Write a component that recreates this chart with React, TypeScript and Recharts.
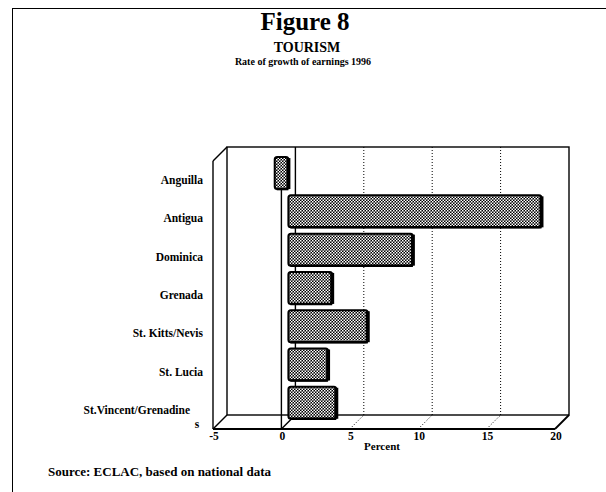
import React from 'react';
import { BarChart, Bar, XAxis, YAxis, ReferenceLine, ReferenceArea } from 'recharts';

const categories = [
  'Anguilla',
  'Antigua',
  'Dominica',
  'Grenada',
  'St. Kitts/Nevis',
  'St. Lucia',
  'St.Vincent/Grenadines',
];
const growth = [-1.0, 18.5, 9.1, 3.2, 5.8, 2.9, 3.5];
const xTicks = [-5, 0, 5, 10, 15, 20];
const gridValues = [5, 10, 15];

const data = categories.map((name, i) => ({ name, value: growth[i] }));

const D = 7;
const FONT = '"Liberation Serif", "DejaVu Serif", serif';

const Frame = (props: any) => {
  const { x, y, width, height } = props;
  const bx = x + D;
  const by = y - D;
  const fx = x - D;
  const fy = y + D;
  return (
    <g stroke="#000" fill="none" strokeWidth={1.4}>
      <rect x={bx} y={by} width={width} height={height} />
      <line x1={fx} y1={fy} x2={fx} y2={fy + height} />
      <line x1={fx} y1={fy} x2={bx} y2={by} />
      <line x1={fx} y1={fy + height} x2={fx + width} y2={fy + height} strokeWidth={1.8} />
      <line x1={fx} y1={fy + height} x2={bx} y2={by + height} />
      <line x1={fx + width} y1={fy + height} x2={bx + width} y2={by + height} strokeWidth={1.8} />
    </g>
  );
};

const GridShape = (props: any) => {
  const { x1, y1, y2 } = props;
  const top = Math.min(y1, y2);
  const bottom = Math.max(y1, y2);
  return (
    <g stroke="#000" fill="none" strokeWidth={1} strokeDasharray="1 2">
      <line x1={x1 + D} y1={top - D} x2={x1 + D} y2={bottom - D} />
      <line x1={x1 - D} y1={bottom + D} x2={x1 + D} y2={bottom - D} />
    </g>
  );
};

const ZeroShape = (props: any) => {
  const { x1, y1, y2 } = props;
  const top = Math.min(y1, y2);
  const bottom = Math.max(y1, y2);
  return (
    <g stroke="#000" fill="none" strokeWidth={1.4}>
      <line x1={x1 + D} y1={top - D} x2={x1 + D} y2={bottom - D} />
      <line x1={x1 - D} y1={top + D} x2={x1 - D} y2={bottom + D} />
      <line x1={x1 - D} y1={bottom + D} x2={x1 + D} y2={bottom - D} />
    </g>
  );
};

const BarShape = (props: any) => {
  const { x, y, width, height } = props;
  const left = Math.min(x, x + width);
  const w = Math.abs(width);
  return (
    <g>
      <rect x={left} y={y} width={w} height={height} rx={2.5} fill="url(#halftone)" stroke="#000" strokeWidth={2} />
      <line x1={left + w} y1={y + 1} x2={left + w} y2={y + height} stroke="#000" strokeWidth={4} />
      <line x1={left + 2} y1={y + height} x2={left + w} y2={y + height} stroke="#000" strokeWidth={2.5} />
    </g>
  );
};

const YTick = (props: any) => {
  const { y, payload } = props;
  const v = payload.value as string;
  const cy = y + D;
  if (v === 'St.Vincent/Grenadines') {
    return (
      <g fontFamily={FONT} fontWeight="bold" fontSize={11.5} fill="#000">
        <text x={190} y={cy + 4} textAnchor="end">St.Vincent/Grenadine</text>
        <text x={197} y={cy + 18} textAnchor="middle">s</text>
      </g>
    );
  }
  return (
    <text x={203} y={cy + 4} textAnchor="end" fontFamily={FONT} fontWeight="bold" fontSize={11.5} fill="#000">
      {v}
    </text>
  );
};

const XTick = (props: any) => {
  const { x, payload } = props;
  return (
    <text x={x - 6} y={440} textAnchor="middle" fontFamily={FONT} fontWeight="bold" fontSize={11.5} fill="#000">
      {payload.value}
    </text>
  );
};

export default function App() {
  return (
    <div style={{ position: 'absolute', left: 0, top: 0, width: 606, height: 492, background: '#fff', fontFamily: FONT }}>
      <div style={{ position: 'absolute', left: 12, top: 8, width: 594, height: 0, borderTop: '1.5px solid #000' }} />
      <div style={{ position: 'absolute', left: 12, top: 8, width: 0, height: 484, borderLeft: '1.5px solid #000' }} />
      <div style={{ position: 'absolute', left: 0, width: 606, top: 8, textAlign: 'center', fontSize: 25, fontWeight: 'bold', lineHeight: '28px', paddingLeft: 2 }}>Figure 8</div>
      <div style={{ position: 'absolute', left: 0, width: 606, top: 40, textAlign: 'center', fontSize: 14, fontWeight: 'bold', lineHeight: '16px', paddingLeft: 4 }}>TOURISM</div>
      <div style={{ position: 'absolute', left: 0, width: 606, top: 56, textAlign: 'center', fontSize: 10, fontWeight: 'bold', lineHeight: '12px' }}>Rate of growth of earnings 1996</div>
      <div style={{ position: 'absolute', left: 282, width: 200, top: 440, textAlign: 'center', fontSize: 11, fontWeight: 'bold', lineHeight: '13px' }}>Percent</div>
      <div style={{ position: 'absolute', left: 48, top: 464, fontSize: 13, fontWeight: 'bold', lineHeight: '15px', whiteSpace: 'nowrap' }}>Source: ECLAC, based on national data</div>
      <div style={{ position: 'absolute', left: 0, top: 0 }}>
        <BarChart
          width={606}
          height={492}
          data={data}
          layout="vertical"
          margin={{ top: 154, right: 44, bottom: 40, left: 0 }}
          barCategoryGap="8%"
        >
          <defs>
            <pattern id="halftone" width="3" height="3" patternUnits="userSpaceOnUse">
              <rect width="3" height="3" fill="#000" />
              <rect x="0" y="0" width="1.5" height="1.5" fill="#fff" />
              <rect x="1.5" y="1.5" width="1.5" height="1.5" fill="#fff" />
            </pattern>
          </defs>
          <XAxis
            type="number"
            domain={[-5, 20]}
            ticks={xTicks}
            height={30}
            axisLine={false}
            tickLine={false}
            tick={<XTick />}
            interval={0}
          />
          <YAxis
            type="category"
            dataKey="name"
            width={220}
            axisLine={false}
            tickLine={false}
            tick={<YTick />}
            interval={0}
          />
          <ReferenceArea x1={-5} x2={20} shape={<Frame />} ifOverflow="visible" zIndex={-10} />
          {gridValues.map((v) => (
            <ReferenceLine key={v} x={v} shape={<GridShape />} ifOverflow="visible" zIndex={-10} />
          ))}
          <ReferenceLine x={0} shape={<ZeroShape />} ifOverflow="visible" zIndex={-10} />
          <Bar dataKey="value" shape={<BarShape />} isAnimationActive={false} />
        </BarChart>
      </div>
    </div>
  );
}
